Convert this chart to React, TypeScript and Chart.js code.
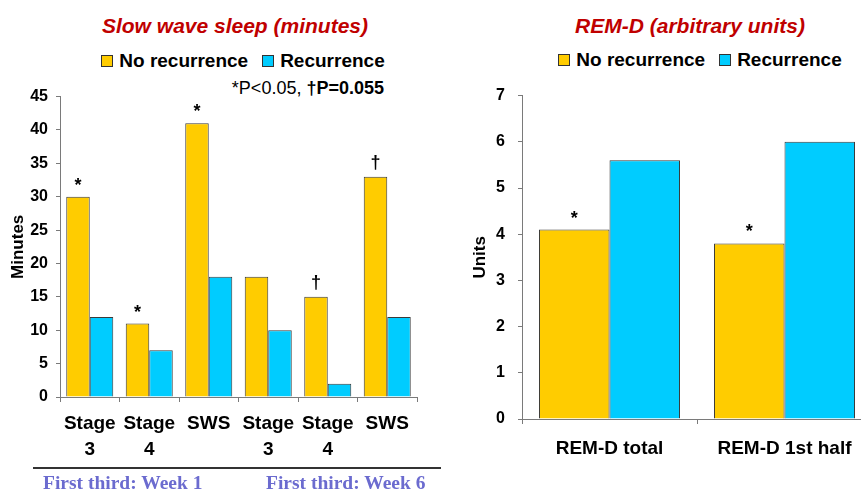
import React, { useEffect, useRef } from "react";
import { Chart, registerables } from "chart.js";

Chart.register(...registerables);

// ---------- data ----------
const seriesNames = ["No recurrence", "Recurrence"];
const seriesColors = ["#FFCC00", "#00CCFF"];

const swsTitle = "Slow wave sleep (minutes)";
const swsCategories: (string | string[])[] = [["Stage", "3"], ["Stage", "4"], "SWS", ["Stage", "3"], ["Stage", "4"], "SWS"];
const swsNoRecurrence = [30, 11, 41, 18, 15, 33];
const swsRecurrence = [12, 7, 18, 10, 2, 12];
const swsMarks = ["*", "*", "*", "", "†", "†"];
const swsAxis = { min: 0, max: 45, step: 5, title: "Minutes" };

const remTitle = "REM-D (arbitrary units)";
const remCategories = ["REM-D total", "REM-D 1st half"];
const remNoRecurrence = [4.1, 3.8];
const remRecurrence = [5.6, 6.0];
const remMarks = ["*", "*"];
const remAxis = { min: 0, max: 7, step: 1, title: "Units" };

const groupLabels = ["First third: Week 1", "First third: Week 6"];
const noteRegular = "*P<0.05, ";
const noteBold = "†P=0.055";

const SANS = "'Liberation Sans', Arial, sans-serif";

type Layout = {
  left: number;
  top: number;
  width: number;
  height: number;
  pad: { left: number; right: number; top: number; bottom: number };
  xHeight: number;
  yWidth: number;
  yTickPad: number;
  xTickPad: number;
  xLineHeight: number;
  catPct: number;
};

const marksPlugin = {
  id: "marks",
  afterDatasetsDraw(chart: any, _args: any, opts: any) {
    const marks: string[] = opts.marks || [];
    const meta = chart.getDatasetMeta(0);
    const ctx = chart.ctx;
    ctx.save();
    ctx.fillStyle = "#000";
    ctx.font = `bold 18px ${SANS}`;
    ctx.textAlign = "center";
    ctx.textBaseline = "alphabetic";
    marks.forEach((m, i) => {
      if (!m) return;
      const el = meta.data[i];
      if (!el) return;
      const off = m === "†" ? 9 : 6;
      ctx.fillText(m, el.x, el.y - off);
    });
    ctx.restore();
  },
};

function BarChart(props: {
  categories: (string | string[])[];
  a: number[];
  b: number[];
  marks: string[];
  axis: { min: number; max: number; step: number; title: string };
  layout: Layout;
}) {
  const ref = useRef<HTMLCanvasElement>(null);
  const { categories, a, b, marks, axis, layout } = props;
  useEffect(() => {
    if (!ref.current) return;
    const chart = new Chart(ref.current, {
      type: "bar",
      data: {
        labels: categories as any,
        datasets: [
          {
            label: seriesNames[0],
            data: a,
            backgroundColor: seriesColors[0],
            borderColor: "#3a3a3a",
            borderWidth: 1,
            barPercentage: 1,
            categoryPercentage: layout.catPct,
          },
          {
            label: seriesNames[1],
            data: b,
            backgroundColor: seriesColors[1],
            borderColor: "#3a3a3a",
            borderWidth: 1,
            barPercentage: 1,
            categoryPercentage: layout.catPct,
          },
        ],
      },
      plugins: [marksPlugin],
      options: {
        animation: false,
        responsive: false,
        maintainAspectRatio: false,
        layout: { padding: layout.pad },
        plugins: {
          legend: { display: false },
          tooltip: { enabled: false },
          title: { display: false },
          marks: { marks },
        } as any,
        scales: {
          x: {
            ticks: {
              font: { family: SANS, size: 19, weight: "bold", lineHeight: layout.xLineHeight },
              color: "#000",
              padding: layout.xTickPad,
              maxRotation: 0,
              autoSkip: false,
            },
            grid: { drawOnChartArea: false, tickLength: 5, color: "#7a7a7a", offset: true },
            border: { color: "#7a7a7a", width: 1 },
            afterFit: (s: any) => {
              s.height = layout.xHeight;
            },
          },
          y: {
            min: axis.min,
            max: axis.max,
            ticks: {
              stepSize: axis.step,
              font: { family: SANS, size: 16, weight: "bold" },
              color: "#000",
              padding: layout.yTickPad,
            },
            grid: { drawOnChartArea: false, tickLength: 4, color: "#7a7a7a" },
            border: { color: "#7a7a7a", width: 1 },
            title: {
              display: true,
              text: axis.title,
              font: { family: SANS, size: 17, weight: "bold" },
              color: "#000",
              padding: 0,
            },
            afterFit: (s: any) => {
              s.width = layout.yWidth;
            },
          },
        },
      } as any,
    });
    return () => chart.destroy();
  }, []);
  return (
    <canvas
      ref={ref}
      width={layout.width}
      height={layout.height}
      style={{ position: "absolute", left: layout.left, top: layout.top, width: layout.width, height: layout.height }}
    />
  );
}

function Legend(props: { left: number; width: number; top: number }) {
  return (
    <div
      style={{
        position: "absolute",
        left: props.left,
        width: props.width,
        top: props.top,
        height: 24,
        display: "flex",
        justifyContent: "center",
        alignItems: "center",
        fontFamily: SANS,
        fontWeight: "bold",
        fontSize: 19,
        color: "#000",
        whiteSpace: "nowrap",
      }}
    >
      {seriesNames.map((n, i) => (
        <div key={n} style={{ display: "flex", alignItems: "center", marginLeft: i ? 14 : 0 }}>
          <span
            style={{
              display: "inline-block",
              width: 10,
              height: 10,
              border: "1px solid #333",
              background: seriesColors[i],
              marginRight: 6,
            }}
          />
          <span>{n}</span>
        </div>
      ))}
    </div>
  );
}

function Title(props: { left: number; width: number; top: number; text: string }) {
  return (
    <div
      style={{
        position: "absolute",
        left: props.left,
        width: props.width,
        top: props.top,
        lineHeight: "24px",
        textAlign: "center",
        fontFamily: SANS,
        fontWeight: "bold",
        fontStyle: "italic",
        fontSize: 21,
        color: "#C00000",
        whiteSpace: "nowrap",
      }}
    >
      {props.text}
    </div>
  );
}

// y-axis tick padding adds to the chart-area top inset (half label height + padding)
const leftLayout: Layout = {
  left: 0,
  top: 79,
  width: 460,
  height: 390,
  pad: { left: 8, right: 43, top: 0, bottom: 10 },
  xHeight: 62,
  yWidth: 52,
  yTickPad: 8,
  xTickPad: 9,
  xLineHeight: 1.37,
  catPct: 0.79,
};

const rightLayout: Layout = {
  left: 470,
  top: 73,
  width: 420,
  height: 390,
  pad: { left: 0, right: 18, top: 0, bottom: 4 },
  xHeight: 40,
  yWidth: 52,
  yTickPad: 13,
  xTickPad: 12,
  xLineHeight: 1.3,
  catPct: 0.806,
};

export default function App() {
  return (
    <div
      style={{
        position: "fixed",
        left: 0,
        top: 0,
        width: 861,
        height: 492,
        overflow: "hidden",
        background: "#fff",
      }}
    >
      <Title left={0} width={470} top={14} text={swsTitle} />
      <Legend left={0} width={486} top={49} />
      <div
        style={{
          position: "absolute",
          left: 0,
          width: 384,
          top: 78,
          lineHeight: "20px",
          textAlign: "right",
          fontFamily: SANS,
          fontSize: 18,
          color: "#000",
          whiteSpace: "nowrap",
        }}
      >
        {noteRegular}
        <b>{noteBold}</b>
      </div>
      <BarChart categories={swsCategories} a={swsNoRecurrence} b={swsRecurrence} marks={swsMarks} axis={swsAxis} layout={leftLayout} />

      <Title left={520} width={340} top={14} text={remTitle} />
      <Legend left={540} width={320} top={48} />
      <BarChart categories={remCategories} a={remNoRecurrence} b={remRecurrence} marks={remMarks} axis={remAxis} layout={rightLayout} />

      <div style={{ position: "absolute", left: 33, width: 408, top: 467, height: 2, background: "#333" }} />
      {groupLabels.map((g, i) => (
        <div
          key={g}
          style={{
            position: "absolute",
            left: i === 0 ? 43 : 266,
            top: 473,
            lineHeight: "20px",
            fontFamily: "'Liberation Serif', 'Times New Roman', serif",
            fontWeight: "bold",
            fontSize: 19.5,
            color: "#6B6BCF",
            whiteSpace: "nowrap",
          }}
        >
          {g}
        </div>
      ))}
    </div>
  );
}
